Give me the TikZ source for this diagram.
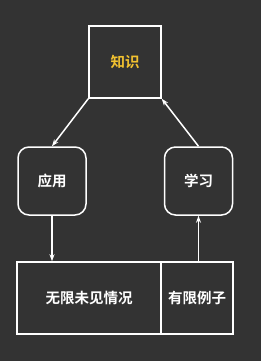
\documentclass[tikz,border=0pt]{standalone}
\usepackage{fontspec}
\setmainfont{Noto Sans CJK SC}[BoldFont={* Bold}]
\usetikzlibrary{arrows.meta}
\definecolor{bg}{HTML}{333333}
\definecolor{gold}{HTML}{F2C230}
\begin{document}
\begin{tikzpicture}[x=1pt,y=-1pt,
  box/.style={draw=white,line width=1.5pt,minimum width=72pt,minimum height=72pt,inner sep=0pt,font=\fontsize{14.5}{16}\selectfont\bfseries,text=white},
  rbox/.style={box,minimum width=68pt,minimum height=68pt,rounded corners=11pt},
  conn/.style={draw=white,line width=1.5pt,-{Stealth[length=7pt,width=5pt]}}]
\fill[bg] (0,0) rectangle (261,361);
\useasboundingbox (0,0) rectangle (261,361);
\node[box,text=gold] (zs) at (125,62) {知识};
\node[rbox] (yy) at (52,181) {应用};
\node[rbox] (xx) at (198.5,181) {学习};
\node[box,minimum width=144pt] (wx) at (89,298) {无限未见情况};
\node[box] (yx) at (197,298) {有限例子};
\draw[conn] (zs.south west) -- (yy.north);
\draw[conn] (xx.north) -- (zs.south east);
\draw[conn] (yy.south) -- (yy.south |- wx.north);
\draw[conn] (xx.south |- yx.north) -- (xx.south);
\end{tikzpicture}
\end{document}
